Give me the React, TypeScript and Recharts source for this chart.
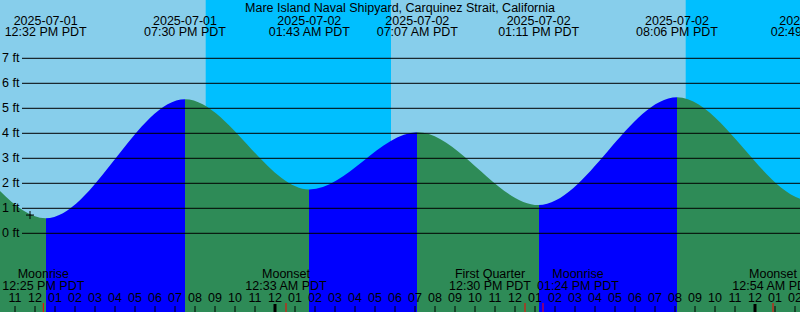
import React from 'react';
import {
  ComposedChart,
  Area,
  XAxis,
  YAxis,
  ReferenceArea,
  ReferenceLine,
  Scatter,
} from 'recharts';

const TITLE = 'Mare Island Naval Shipyard, Carquinez Strait, California';

// Times are hours since 2025-07-01 00:00 PDT
const VIEW_START = 10.25;
const VIEW_END = 50.25;
const CHART_W = 800;
const CHART_H = 312;

const tideTimes = [0.2, 6.17, 12.533, 19.5, 25.717, 31.117, 37.183, 44.1, 50.817, 57.8];
const tideHeights = [1.9, 4.3, 0.6, 5.36, 1.75, 4.04, 1.13, 5.44, 1.3, 4.0];
const tideDates = [
  '', '', '2025-07-01', '2025-07-01', '2025-07-02',
  '2025-07-02', '2025-07-02', '2025-07-02', '2025-07-03', '',
];
const tideClock = [
  '', '', '12:32 PM PDT', '07:30 PM PDT', '01:43 AM PDT',
  '07:07 AM PDT', '01:11 PM PDT', '08:06 PM PDT', '02:49 AM PDT', '',
];

const moonTimes = [12.417, 24.55, 36.5, 37.4, 48.9];
const moonEvents = ['Moonrise', 'Moonset', 'First Quarter', 'Moonrise', 'Moonset'];
const moonClock = ['12:25 PM PDT', '12:33 AM PDT', '12:30 PM PDT', '01:24 PM PDT', '12:54 AM PDT'];

const nightStarts = [20.535, 44.535];
const nightEnds = [29.8, 53.8];

const hourTicks = [
  11, 12, 13, 14, 15, 16, 17, 18, 19, 20, 21, 22, 23, 24, 25, 26, 27, 28, 29, 30,
  31, 32, 33, 34, 35, 36, 37, 38, 39, 40, 41, 42, 43, 44, 45, 46, 47, 48, 49, 50,
];
const heightTicks = [0, 1, 2, 3, 4, 5, 6, 7];

const nowTime = 11.75;
const nowHeight = 0.73;

const DAY = '#87CEEB';
const NIGHT = '#00BFFF';
const RISING = '#0000FF';
const FALLING = '#2E8B57';
const FONT = '"Liberation Sans", Arial, sans-serif';
const FS = 12.5;

const tideData = tideTimes.map((t, i) => ({ t, h: tideHeights[i] }));
const nowData = [{ t: nowTime, h: nowHeight }];
const bottomTicks = [...hourTicks, ...moonTimes];
const labeledTideTimes = tideTimes.filter((t, i) => tideClock[i] !== '');

const span = tideTimes[tideTimes.length - 1] - tideTimes[0];
const gradientStops: React.ReactElement[] = [];
for (let i = 0; i < tideTimes.length - 1; i++) {
  const color = tideHeights[i + 1] > tideHeights[i] ? RISING : FALLING;
  const o1 = (tideTimes[i] - tideTimes[0]) / span;
  const o2 = (tideTimes[i + 1] - tideTimes[0]) / span;
  gradientStops.push(<stop key={`a${i}`} offset={o1} stopColor={color} />);
  gradientStops.push(<stop key={`b${i}`} offset={o2} stopColor={color} />);
}

// Measure label widths and push overlapping moon labels apart (as the tide program does)
const measure = (() => {
  let ctx: CanvasRenderingContext2D | null = null;
  try {
    ctx = document.createElement('canvas').getContext('2d');
    if (ctx) ctx.font = `${FS}px "Liberation Sans", Arial, sans-serif`;
  } catch (e) {
    ctx = null;
  }
  return (s: string) => (ctx ? ctx.measureText(s).width : s.length * 6.9);
})();

const pxPerHour = CHART_W / (VIEW_END - VIEW_START);
const moonShift: number[] = (() => {
  const pos = moonTimes.map((t) => (t - VIEW_START) * pxPerHour);
  const centers = [...pos];
  const widths = moonTimes.map((_, i) => Math.max(measure(moonEvents[i]), measure(moonClock[i])));
  const gap = 6;
  for (let iter = 0; iter < 10; iter++) {
    for (let i = 0; i < centers.length - 1; i++) {
      const need = (widths[i] + widths[i + 1]) / 2 + gap;
      const have = centers[i + 1] - centers[i];
      if (have < need) {
        const d = (need - have) / 2;
        centers[i] -= d;
        centers[i + 1] += d;
      }
    }
  }
  return centers.map((c, i) => c - pos[i]);
})();

const hourLabel = (h: number) => {
  const r = h % 12 === 0 ? 12 : h % 12;
  return String(r).padStart(2, '0');
};

const BottomTick = (props: any) => {
  const { x, y, payload } = props;
  const v = payload.value as number;
  const mi = moonTimes.indexOf(v);
  if (mi >= 0) {
    const lx = x + moonShift[mi];
    return (
      <g>
        <line x1={x} x2={x} y1={y - 9} y2={y} stroke="#FF0000" strokeWidth={1} />
        <text x={lx} y={y - 33.7} textAnchor="middle" fontFamily={FONT} fontSize={FS} fill="#000">
          {moonEvents[mi]}
        </text>
        <text x={lx} y={y - 22} textAnchor="middle" fontFamily={FONT} fontSize={FS} fill="#000">
          {moonClock[mi]}
        </text>
      </g>
    );
  }
  const midnight = v % 24 === 0;
  return (
    <g>
      <line
        x1={x}
        x2={x}
        y1={y - (midnight ? 8 : 6)}
        y2={y}
        stroke="#000"
        strokeWidth={midnight ? 3 : 1}
      />
      <text x={x} y={y - 10} textAnchor="middle" fontFamily={FONT} fontSize={FS} fill="#000">
        {hourLabel(v)}
      </text>
    </g>
  );
};

const ExtremeTick = (props: any) => {
  const { x, y, payload } = props;
  const i = tideTimes.indexOf(payload.value);
  return (
    <g>
      <text x={x} y={y + 24.5} textAnchor="middle" fontFamily={FONT} fontSize={FS} fill="#000">
        {tideDates[i]}
      </text>
      <text x={x} y={y + 36} textAnchor="middle" fontFamily={FONT} fontSize={FS} fill="#000">
        {tideClock[i]}
      </text>
    </g>
  );
};

const TitleLabel = (props: any) => {
  const vb = props.viewBox || { x: 0, y: 0, width: CHART_W };
  return (
    <text
      x={vb.x + vb.width / 2}
      y={vb.y + 11.7}
      textAnchor="middle"
      fontFamily={FONT}
      fontSize={FS}
      fill="#000"
    >
      {TITLE}
    </text>
  );
};

const GridShape = (value: number) => (props: any) => {
  const { x1, y1, x2 } = props;
  return (
    <g>
      <line x1={x1 + 22} x2={x2} y1={y1} y2={y1} stroke="#000" strokeWidth={1} />
      <text x={x1 + 2} y={y1 + 4} textAnchor="start" fontFamily={FONT} fontSize={FS} fill="#000">
        {`${value} ft`}
      </text>
    </g>
  );
};

const PlusShape = (props: any) => {
  const { cx, cy } = props;
  return (
    <path
      d={`M${cx - 4},${cy}h8M${cx},${cy - 4}v8`}
      stroke="#000"
      strokeWidth={1}
      fill="none"
    />
  );
};

const NoShape = () => <g />;

const axisCommon = {
  type: 'number' as const,
  domain: [VIEW_START, VIEW_END],
  allowDataOverflow: true,
  interval: 0 as const,
  mirror: true,
  height: 30,
  tickSize: 0,
  tickMargin: 0,
  axisLine: false,
  tickLine: false,
};

export default function App() {
  return (
    <div style={{ position: 'absolute', left: 0, top: 0, width: CHART_W, height: CHART_H, background: DAY }}>
      <ComposedChart
        width={CHART_W}
        height={CHART_H}
        data={tideData}
        margin={{ top: 0, right: 0, bottom: 0, left: 0 }}
      >
        <defs>
          <linearGradient id="tideFill" x1="0" y1="0" x2="1" y2="0">
            {gradientStops}
          </linearGradient>
        </defs>
        <XAxis xAxisId="main" dataKey="t" {...axisCommon} ticks={bottomTicks} tick={<BottomTick />} />
        <XAxis
          xAxisId="extremes"
          dataKey="t"
          orientation="top"
          {...axisCommon}
          ticks={labeledTideTimes}
          tick={<ExtremeTick />}
          label={<TitleLabel />}
        />
        <YAxis
          yAxisId="h"
          type="number"
          domain={[-3.148, 9.332]}
          allowDataOverflow
          hide
          width={0}
        />
        {nightStarts.map((s, i) => (
          <ReferenceArea
            key={`night${i}`}
            xAxisId="main"
            yAxisId="h"
            x1={s}
            x2={nightEnds[i]}
            fill={NIGHT}
            fillOpacity={1}
            stroke="none"
            ifOverflow="hidden"
          />
        ))}
        <Area
          xAxisId="main"
          yAxisId="h"
          dataKey="h"
          type="monotone"
          baseValue="dataMin"
          stroke="none"
          fill="url(#tideFill)"
          fillOpacity={1}
          isAnimationActive={false}
          dot={false}
          activeDot={false}
        />
        {heightTicks.map((v) => (
          <ReferenceLine
            key={`g${v}`}
            xAxisId="main"
            yAxisId="h"
            y={v}
            shape={GridShape(v)}
          />
        ))}
        <Scatter
          xAxisId="main"
          yAxisId="h"
          data={nowData}
          dataKey="h"
          shape={<PlusShape />}
          isAnimationActive={false}
        />
        <Scatter
          xAxisId="extremes"
          yAxisId="h"
          data={tideData}
          dataKey="h"
          shape={<NoShape />}
          isAnimationActive={false}
        />
      </ComposedChart>
    </div>
  );
}
